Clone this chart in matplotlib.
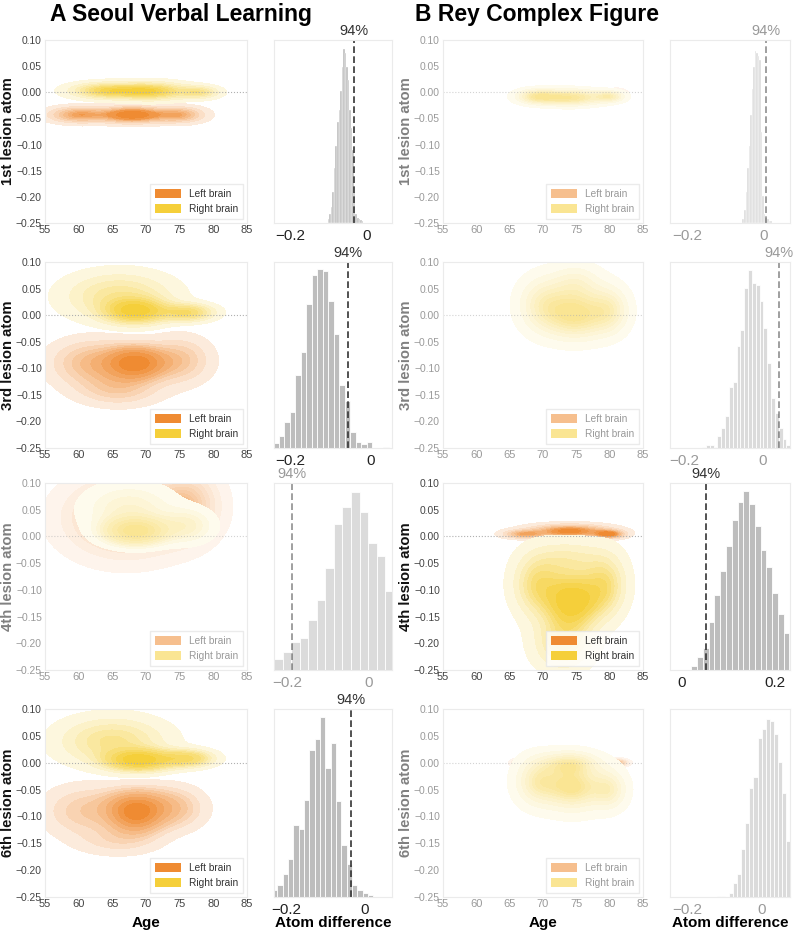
import numpy as np
import matplotlib
matplotlib.use("Agg")
import matplotlib.pyplot as plt
import matplotlib.colors as mcolors
from matplotlib.patches import Patch

plt.rcParams['font.family'] = ['Liberation Sans', 'DejaVu Sans']

# ---------------- data ----------------
panel_titles = ["A Seoul Verbal Learning", "B Rey Complex Figure"]
row_labels = ["1st lesion atom", "3rd lesion atom", "4th lesion atom", "6th lesion atom"]
age_ticks = [55, 60, 65, 70, 75, 80, 85]
atom_ticks = [0.10, 0.05, 0.00, -0.05, -0.10, -0.15, -0.20, -0.25]
hemi_labels = ["Left brain", "Right brain"]

# panels without a credible difference are drawn washed out
faded_a = [False, False, True, False]
faded_b = [True, True, False, True]

# density blobs: (age, atom, sd age, sd atom, weight)
left_a1 = [(60, -0.043, 3.0, 0.010, 0.8), (68, -0.043, 3.0, 0.010, 1.2), (75, -0.043, 2.5, 0.010, 0.6)]
right_a1 = [(64, 0.003, 3.5, 0.010, 1.0), (71, 0.002, 3.5, 0.011, 1.2), (78, 0.0, 2.0, 0.008, 0.3)]
left_a3 = [(68.5, -0.09, 2.8, 0.02, 1.0), (62, -0.09, 4.0, 0.028, 0.8), (75, -0.085, 3.0, 0.028, 0.5),
           (66, -0.14, 4.0, 0.02, 0.4)]
right_a3 = [(68.5, 0.008, 2.8, 0.014, 1.0), (66, 0.035, 5.0, 0.028, 1.4), (76, 0.005, 2.5, 0.01, 0.4)]
left_a4 = [(67, 0.035, 5.5, 0.045, 1.0), (76, 0.06, 3.0, 0.04, 0.4)]
right_a4 = [(68.5, 0.01, 2.8, 0.015, 1.0), (67.5, 0.05, 4.2, 0.03, 0.7), (76, 0.02, 2.5, 0.02, 0.3)]
left_a6 = [(68.5, -0.08, 3.0, 0.02, 1.0), (68.5, -0.105, 2.5, 0.02, 0.7), (61, -0.09, 4.0, 0.03, 0.8),
           (74, -0.085, 3.0, 0.025, 0.6), (66, -0.145, 4.0, 0.018, 0.3)]
right_a6 = [(69, 0.005, 3.0, 0.012, 1.0), (65, 0.04, 5.0, 0.028, 1.4), (76, 0.008, 2.5, 0.01, 0.4)]

left_b1 = [(81, -0.004, 0.8, 0.005, 1.0)]
right_b1 = [(74, -0.01, 3.3, 0.010, 1.0), (69, -0.008, 2.0, 0.009, 0.4), (80, -0.008, 1.5, 0.007, 0.2)]
left_b3 = []
right_b3 = [(75, 0.0, 3.0, 0.03, 1.0), (70, 0.02, 2.5, 0.035, 0.6), (80, 0.01, 2.0, 0.03, 0.4),
            (75, 0.06, 2.5, 0.025, 0.3)]
left_b4 = [(74, 0.01, 4.0, 0.008, 1.0), (67, 0.004, 2.0, 0.005, 0.2), (80, 0.004, 1.5, 0.005, 0.2)]
right_b4 = [(74.5, -0.12, 2.8, 0.035, 1.0), (69, -0.09, 2.5, 0.04, 0.6), (79.5, -0.09, 2.2, 0.04, 0.5),
            (73, -0.2, 3.0, 0.035, 0.6), (74, -0.04, 3.5, 0.025, 0.3)]
left_b6 = [(67, 0.0, 0.9, 0.004, 0.5), (81, 0.0, 1.0, 0.004, 0.5)]
right_b6 = [(74.5, -0.045, 3.0, 0.03, 1.0), (69, -0.035, 2.2, 0.03, 0.5), (80, -0.05, 1.8, 0.025, 0.3),
            (74, 0.0, 3.0, 0.015, 0.3)]

# posterior of atom difference (left - right): first bin edge, bin width, relative counts
hist_a1_start, hist_a1_bin = -0.102, 0.004
hist_a1_counts = [0.02, 0.05, 0.09, 0.17, 0.30, 0.42, 0.55, 0.62, 0.72, 0.85, 0.95, 0.93,
                  0.85, 0.78, 0.62, 0.52, 0.40, 0.17, 0.05, 0.03, 0.02, 0.015, 0.01]
hist_a3_start, hist_a3_bin = -0.241, 0.0136
hist_a3_counts = [0.025, 0.066, 0.139, 0.196, 0.393, 0.515, 0.776, 0.932, 0.964, 0.95, 0.791,
                  0.611, 0.341, 0.251, 0.088, 0.031, 0.02, 0.034, 0, 0, 0.005]
hist_a4_start, hist_a4_bin = -0.234, 0.0212
hist_a4_counts = [0.057, 0.098, 0.149, 0.173, 0.265, 0.374, 0.543, 0.783, 0.87, 0.954, 0.843,
                  0.68, 0.61, 0.42]
hist_a6_start, hist_a6_bin = -0.237, 0.0136
hist_a6_counts = [0.035, 0.066, 0.124, 0.202, 0.385, 0.362, 0.518, 0.78, 0.84, 0.957, 0.686,
                  0.819, 0.51, 0.278, 0.177, 0.062, 0.035, 0.021, 0.012]
hist_b1_start, hist_b1_bin = -0.056, 0.004
hist_b1_counts = [0.02, 0.07, 0.17, 0.3, 0.42, 0.59, 0.73, 0.85, 0.94, 0.93, 0.91, 0.89, 0.5,
                  0.15, 0.05, 0.03, 0.02, 0.01, 0.01]
hist_b3_start, hist_b3_bin = -0.155, 0.0099
hist_b3_counts = [0.005, 0.018, 0.014, 0.005, 0.063, 0.11, 0.171, 0.326, 0.353, 0.546, 0.632,
                  0.861, 0.957, 0.886, 0.875, 0.789, 0.645, 0.456, 0.267, 0.186, 0.105, 0.05, 0.014]
hist_b4_start, hist_b4_bin = 0.02, 0.0124
hist_b4_counts = [0.021, 0.069, 0.119, 0.258, 0.4, 0.53, 0.665, 0.8, 0.9, 0.957, 0.886, 0.77,
                  0.64, 0.55, 0.41, 0.3, 0.2]
hist_b6_start, hist_b6_bin = -0.132, 0.011
hist_b6_counts = [0.002, 0.004, 0.004, 0.002, 0.021, 0.074, 0.124, 0.257, 0.393, 0.58, 0.64,
                  0.846, 0.894, 0.947, 0.934, 0.867, 0.717, 0.552, 0.297]

# 94% interval bound (None = outside the view)
hdi_a = [-0.034, -0.057, -0.19, -0.035]
hdi_b = [0.005, 0.044, 0.051, None]
hdi_label = "94%"

hist_xlim_a = [(-0.242, 0.065), (-0.2395, 0.052), (-0.234, 0.0585), (-0.232, 0.069)]
hist_xlim_b = [(-0.245, 0.068), (-0.238, 0.072), (-0.026, 0.232), (-0.248, 0.077)]
hist_ticks_a = [[-0.2, 0]] * 4
hist_ticks_b = [[-0.2, 0], [-0.2, 0], [0, 0.2], [-0.2, 0]]

# ---------------- styling ----------------
LEFT_C = '#ef8b32'
RIGHT_C = '#f5cf3a'
BAR_C = '#bdbdbd'
SPINE_C = '#ebebeb'
FADE = 0.55

W, H = 800, 935
fig = plt.figure(figsize=(W / 100, H / 100), dpi=100)

row_px = [(40, 223), (262, 448), (483, 670), (709, 897)]
kde_x = [(45, 247), (443, 643)]
hist_x = [(274, 392), (670, 790)]


def px_axes(x0, x1, y0, y1):
    return fig.add_axes([x0 / W, 1 - y1 / H, (x1 - x0) / W, (y1 - y0) / H])


gx, gy = np.meshgrid(np.linspace(40, 100, 360), np.linspace(-0.45, 0.3, 360))


def density(blobs):
    z = np.zeros_like(gx)
    for cx, cy, sx, sy, w in blobs:
        z += w * np.exp(-0.5 * (((gx - cx) / sx) ** 2 + ((gy - cy) / sy) ** 2)) / (sx * sy)
    return z


def iso_levels(z, props):
    vals = np.sort(z.ravel())[::-1]
    cum = np.cumsum(vals) / vals.sum()
    idx = np.searchsorted(cum, 1 - np.asarray(props))
    return np.take(vals, idx, mode='clip')


def shade(color, t):
    c = np.array(mcolors.to_rgb(color))
    return tuple(1 - t * (1 - c))


def draw_kde(ax, left, right, faded):
    a = FADE if faded else 1.0
    for blobs, col in ((left, LEFT_C), (right, RIGHT_C)):
        if not blobs:
            continue
        z = density(blobs)
        lv = iso_levels(z, np.linspace(0.05, 1, 10))[:-1]
        top = z.max() * 1.01
        # nested opaque fills so neighbouring bands leave no seams
        for lev, t in zip(lv, np.linspace(0.17, 1.0, len(lv))):
            ax.contourf(gx, gy, z, levels=[lev, top], colors=[shade(col, t * a)])
    ax.axhline(0, color='#b0b0b0', lw=0.8, ls=':', alpha=a)
    ax.set_xlim(55, 85)
    ax.set_ylim(-0.25, 0.10)
    ax.set_xticks(age_ticks)
    ax.set_yticks(atom_ticks)
    ax.set_yticklabels([f"{t:.2f}".replace('-', '\u2212') for t in atom_ticks])
    tc = '#9a9a9a' if faded else '#444444'
    ax.tick_params(axis='both', length=0, labelsize=7.4, labelcolor=tc)
    ax.tick_params(axis='x', pad=1.5, labelsize=8)
    ax.tick_params(axis='y', pad=2.2)
    for s in ax.spines.values():
        s.set_color(SPINE_C)
    handles = [Patch(facecolor=shade(LEFT_C, a), label=hemi_labels[0]),
               Patch(facecolor=shade(RIGHT_C, a), label=hemi_labels[1])]
    leg = ax.legend(handles=handles, loc='lower right', fontsize=7.3, frameon=True,
                    fancybox=False, edgecolor='#e6e6e6', handlelength=2.5, handleheight=1.1,
                    borderpad=0.5, labelspacing=0.45, borderaxespad=0.4)
    for t in leg.get_texts():
        t.set_color('#999999' if faded else '#333333')


def draw_hist(ax, start, width, counts, hdi, xlim, ticks, faded):
    a = FADE if faded else 1.0
    edges = start + width * np.arange(len(counts))
    lw = 0.25 if width < 0.006 else 0.6
    ax.bar(edges, counts, width=width, align='edge', color=shade(BAR_C, a), edgecolor='white',
           linewidth=lw)
    ax.set_xlim(*xlim)
    ax.set_ylim(0, 1.0)
    ax.set_yticks([])
    ax.set_xticks(ticks)
    ax.set_xticklabels([('0' if t == 0 else f"{t:g}".replace('-', '\u2212')) for t in ticks])
    ax.tick_params(axis='x', length=0, labelsize=11, pad=4,
                   labelcolor='#9a9a9a' if faded else '#222222')
    for s in ax.spines.values():
        s.set_color(SPINE_C)
    if hdi is not None:
        ax.axvline(hdi, color='#333333', lw=1.2, ls=(0, (4, 2)), alpha=a)
        ax.text(hdi, 1.01, hdi_label, transform=ax.get_xaxis_transform(), ha='center',
                va='bottom', fontsize=10.5, color='#999999' if faded else '#333333')


kde_sets = [[(left_a1, right_a1), (left_a3, right_a3), (left_a4, right_a4), (left_a6, right_a6)],
            [(left_b1, right_b1), (left_b3, right_b3), (left_b4, right_b4), (left_b6, right_b6)]]
hist_sets = [[(hist_a1_start, hist_a1_bin, hist_a1_counts), (hist_a3_start, hist_a3_bin, hist_a3_counts),
              (hist_a4_start, hist_a4_bin, hist_a4_counts), (hist_a6_start, hist_a6_bin, hist_a6_counts)],
             [(hist_b1_start, hist_b1_bin, hist_b1_counts), (hist_b3_start, hist_b3_bin, hist_b3_counts),
              (hist_b4_start, hist_b4_bin, hist_b4_counts), (hist_b6_start, hist_b6_bin, hist_b6_counts)]]
faded_sets = [faded_a, faded_b]
hdi_sets = [hdi_a, hdi_b]
xlim_sets = [hist_xlim_a, hist_xlim_b]
tick_sets = [hist_ticks_a, hist_ticks_b]
ylab_x = [8, 406]
title_x = [50, 415]

for c in range(2):
    fig.text(title_x[c] / W, 1 - 21 / H, panel_titles[c], fontsize=16.5, fontweight='bold',
             va='baseline', ha='left')
    for r in range(4):
        y0, y1 = row_px[r]
        fd = faded_sets[c][r]
        ax = px_axes(kde_x[c][0], kde_x[c][1], y0, y1)
        left, right = kde_sets[c][r]
        draw_kde(ax, left, right, fd)
        fig.text(ylab_x[c] / W, 1 - (y0 + y1) / 2 / H, row_labels[r], rotation=90,
                 fontsize=10.7, fontweight='bold', ha='center', va='center',
                 color='#808080' if fd else '#111111')
        hx = px_axes(hist_x[c][0], hist_x[c][1], y0, y1)
        s, w, cnt = hist_sets[c][r]
        draw_hist(hx, s, w, cnt, hdi_sets[c][r], xlim_sets[c][r], tick_sets[c][r], fd)
    fig.text((kde_x[c][0] + kde_x[c][1]) / 2 / W, 1 - 923 / H, "Age", fontsize=11,
             fontweight='bold', ha='center', va='center')
    fig.text((hist_x[c][0] + hist_x[c][1]) / 2 / W, 1 - 923 / H, "Atom difference",
             fontsize=11, fontweight='bold', ha='center', va='center')

fig.savefig("out.png", dpi=100)
